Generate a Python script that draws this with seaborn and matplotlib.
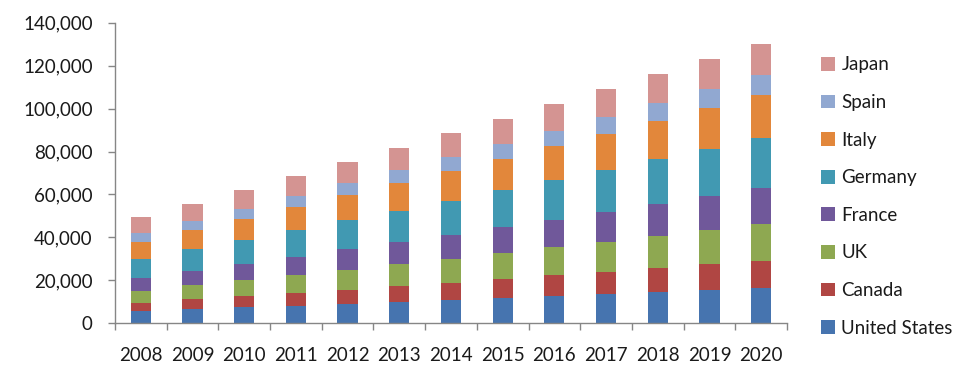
import numpy as np
import pandas as pd
import matplotlib
matplotlib.use("Agg")
import matplotlib.pyplot as plt
import seaborn as sns
from matplotlib.patches import Patch
from matplotlib.ticker import FuncFormatter, FixedLocator

years = ["2008", "2009", "2010", "2011", "2012", "2013", "2014",
         "2015", "2016", "2017", "2018", "2019", "2020"]
series_names = ["United States", "Canada", "UK", "France", "Germany", "Italy", "Spain", "Japan"]

united_states = [5900, 6500, 7600, 8100, 9100, 9900, 10900, 11800, 12900, 13600, 14600, 15500, 16400]
canada = [3600, 4800, 5100, 6000, 6400, 7600, 8000, 8800, 9600, 10300, 11200, 12100, 12600]
uk = [5500, 6500, 7500, 8400, 9300, 10100, 11000, 12100, 13000, 14000, 14900, 15900, 17200]
france = [6100, 6600, 7400, 8400, 9800, 10300, 11100, 12200, 12600, 13900, 14900, 15800, 16800]
germany = [8800, 10100, 11200, 12600, 13500, 14400, 16000, 17300, 18600, 19600, 20900, 21900, 23400]
italy = [8100, 9000, 9600, 10500, 11800, 13200, 13900, 14300, 15900, 16800, 17700, 19200, 19900]
spain = [3900, 4300, 4700, 5300, 5300, 5900, 6700, 7100, 7100, 7700, 8300, 8900, 9500]
japan = [7600, 7800, 9000, 9300, 9800, 10200, 11000, 11400, 12400, 13200, 13600, 13800, 14300]

y_ticks = [0, 20000, 40000, 60000, 80000, 100000, 120000, 140000]

colors = ["#4674AF", "#B04643", "#8EA851", "#70589A", "#4199B2", "#E2873B", "#91A8D1", "#D49492"]

values = [united_states, canada, uk, france, germany, italy, spain, japan]
cum = np.cumsum(np.array(values, dtype=float), axis=0)

sns.set_theme(style="white")
plt.rcParams['font.family'] = ['Lato', 'DejaVu Sans']

fig = plt.figure(figsize=(9.74, 3.91), dpi=100)
ax = fig.add_axes([0.118, 0.173, 0.69, 0.769])

# draw from top of stack down so each lower segment overlays
for i in range(len(series_names) - 1, -1, -1):
    df = pd.DataFrame({"year": years, "value": cum[i]})
    sns.barplot(data=df, x="year", y="value", color=colors[i], saturation=1,
                width=0.39, ax=ax, linewidth=0, edgecolor="none")

ax.set_xlim(-0.5, len(years) - 0.5)
ax.set_ylim(0, 140000)
ax.set_xlabel("")
ax.set_ylabel("")
ax.yaxis.set_major_locator(FixedLocator(y_ticks))
ax.yaxis.set_major_formatter(FuncFormatter(lambda v, p: f"{v:,.0f}"))

spine_color = "#868686"
for s in ["top", "right"]:
    ax.spines[s].set_visible(False)
for s in ["left", "bottom"]:
    ax.spines[s].set_color(spine_color)
    ax.spines[s].set_linewidth(1.0)

ax.tick_params(axis="y", which="major", left=True, length=5, width=1, color=spine_color,
               pad=11, labelsize=13.5, labelcolor="#1a1a1a")
ax.tick_params(axis="x", which="major", bottom=False, length=0, pad=17,
               labelsize=13.5, labelcolor="#1a1a1a")
ax.set_xticks(np.arange(-0.5, len(years), 1.0), minor=True)
ax.tick_params(axis="x", which="minor", bottom=True, length=5, width=1, color=spine_color)

handles = [Patch(facecolor=colors[i], edgecolor="none", label=series_names[i])
           for i in range(len(series_names) - 1, -1, -1)]
leg = fig.legend(handles=handles, loc="upper left", bbox_to_anchor=(0.835, 0.875),
                 frameon=False, fontsize=13.5, handlelength=0.75, handleheight=0.75,
                 handletextpad=0.35, labelspacing=1.1, borderaxespad=0)
for t in leg.get_texts():
    t.set_color("#1a1a1a")

fig.savefig("out.png", dpi=100)
